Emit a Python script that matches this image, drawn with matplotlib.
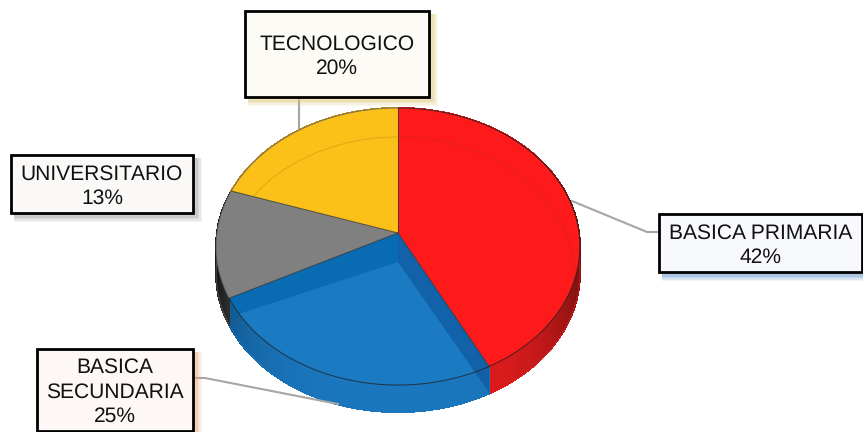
import numpy as np
import matplotlib
matplotlib.use("Agg")
import matplotlib.pyplot as plt
from matplotlib.patches import Polygon, Rectangle

plt.rcParams['font.family'] = ['Liberation Sans', 'DejaVu Sans']
plt.rcParams['text.hinting'] = 'none'
plt.rcParams['text.hinting_factor'] = 1

#chart data, the labels round these to whole percents
categories = ["BASICA PRIMARIA", "BASICA\nSECUNDARIA", "UNIVERSITARIO", "TECNOLOGICO"]
values = [42.4, 25.1, 12.6, 19.9]
colors = ["#fe1a1a", "#1a7ac2", "#808080", "#fcc118"]
wall_light = ["#e01c1c", "#1a76bd", "#5a5a5a", "#c09010"]
wall_dark = ["#701010", "#0d4a78", "#151515", "#c09010"]

#label boxes: left, top, right, bottom, fill, shadow
boxes = [(659, 214, 862, 272, "#f7f9fd", "#5f8fcc"),
         (37, 349, 193, 431, "#fdf8f5", "#eda070"),
         (11, 155, 193, 213, "#fbf9f8", "#999999"),
         (245, 11, 429, 97, "#fcfbf6", "#dcc470")]
leaders = [[(572, 201), (647, 232), (659, 232)],
           [(193, 378), (205, 378), (338, 404)],
           None,
           [(299, 97), (299, 130)]]

#pie geometry in pixels
cx, cy = 398, 233
rx, ry = 181, 137.2
k = 0.0975
depth = 27


def rim(theta, dy=0):
    #clockwise from the top, nearer edge drawn larger
    w = 1 + k * np.cos(theta)
    return np.column_stack([cx + rx * np.sin(theta) / w, cy - ry * np.cos(theta) / w + dy])


def mix(a, b, t):
    ca = np.array(matplotlib.colors.to_rgb(a))
    cb = np.array(matplotlib.colors.to_rgb(b))
    return tuple(ca + (cb - ca) * t)


fig = plt.figure(figsize=(8.63, 4.32), dpi=100)
ax = fig.add_axes([0, 0, 1, 1])
ax.set_xlim(0, 863)
ax.set_ylim(432, 0)
ax.axis("off")

edges = np.radians(np.concatenate([[0], np.cumsum(values)]) * 3.6)

#side wall, small quads for the shading
for i in range(4):
    th = np.linspace(edges[i], edges[i + 1], 80)
    top = rim(th)
    low = rim(th, depth)
    for j in range(len(th) - 1):
        t = abs(np.sin((th[j] + th[j + 1]) / 2)) ** 4
        c = mix(wall_light[i], wall_dark[i], t)
        quad = [top[j], top[j + 1], low[j + 1], low[j]]
        ax.add_patch(Polygon(quad, fc=c, ec=c, lw=0.8, antialiased=False, zorder=2))
    ax.plot(*low.T, color=wall_light[i], lw=0.8, alpha=0.7, zorder=2)

#leaders, the lower one runs over the wall
for line, z in zip(leaders, [1, 2.5, 1, 1]):
    if line is None:
        continue
    xs, ys = zip(*line)
    ax.plot(xs, ys, color="#a6a6a6", lw=1.5, zorder=z)

#top faces
faces = []
for i in range(4):
    th = np.linspace(edges[i], edges[i + 1], 120)
    pts = np.vstack([[cx, cy], rim(th)])
    faces.append(ax.add_patch(Polygon(pts, fc=colors[i], ec="none", zorder=3)))

#see-through inner ring, only on the red and yellow slices
ring_th = np.linspace(0, np.radians(105), 120)
ring_pts = rim(ring_th, 29)
ring_line, = ax.plot(cx + (ring_pts[:, 0] - cx) * 0.97, ring_pts[:, 1], color="#8a3a10", lw=0.7, alpha=0.25, zorder=4)
ring_line.set_clip_path(faces[0])
ring_th = np.linspace(np.radians(280), 2 * np.pi, 120)
ring_pts = rim(ring_th, 29)
ring_line, = ax.plot(cx + (ring_pts[:, 0] - cx) * 0.97, ring_pts[:, 1], color="#8a5a10", lw=0.7, alpha=0.25, zorder=4)
ring_line.set_clip_path(faces[3])

#darker bands along the blue slice edges
a1, a2 = edges[1], edges[2]
p1 = rim(np.array([a1]))[0]
p2 = rim(np.array([a2]))[0]
apex = np.array([cx, cy])
shift = np.array([0, 29])
ax.add_patch(Polygon([apex, p1, p1 + shift - [0, 3], apex + shift], fc="#0b4f96", ec="none", alpha=0.55, zorder=5))
th = np.linspace(a2, a2 - 0.12, 10)
ax.add_patch(Polygon(np.vstack([[apex], [p2], rim(th[1:]), [apex + shift]]), fc="#0568ad", ec="none", alpha=0.8, zorder=5))

#slice and rim outlines
for i in range(4):
    th = np.linspace(edges[i], edges[i + 1], 120)
    lower = rim(th)
    ax.plot(*lower.T, color="#222222" if i < 2 else "#666666", lw=0.7, alpha=0.8, zorder=6)
    ax.plot([cx, lower[0, 0]], [cy, lower[0, 1]], color="#333333", lw=0.7, alpha=0.8, zorder=6)

#label boxes with soft shadows
for (l, t, r, b, fill, shadow), name, val in zip(boxes, categories, values):
    for g, al in [(8, 0.1), (6.5, 0.14), (5, 0.18), (3.5, 0.22)]:
        ax.add_patch(Rectangle((l + 3, t + 3), r - l + g - 2, b - t + g - 2, fc=shadow, ec="none", alpha=al, zorder=7))
    ax.add_patch(Rectangle((l, t), r - l, b - t, fc=fill, ec="black", lw=2, zorder=8))
    ax.text((l + r) / 2, (t + b) / 2 + 2, "%s\n%.0f%%" % (name, val), ha="center", va="center",
            fontsize=15.3, color="#111111", linespacing=1.3, zorder=9)

fig.savefig("out.png", dpi=100)
